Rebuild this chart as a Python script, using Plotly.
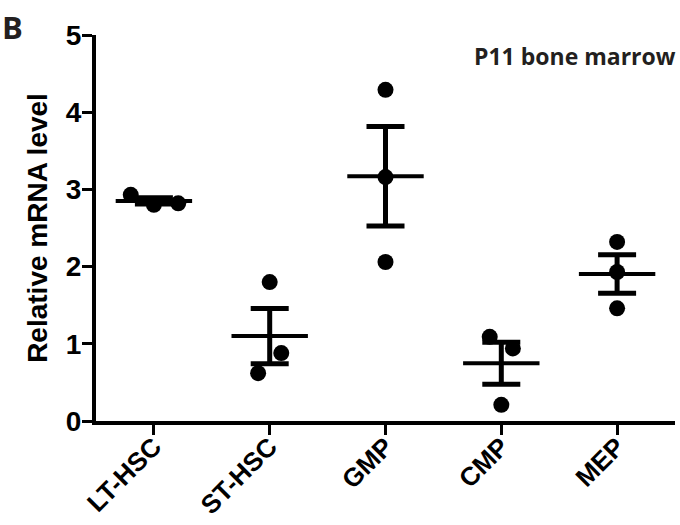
import numpy as np
import plotly.graph_objects as go

# Relative mRNA level per population (three replicates each)
categories = ["LT-HSC", "ST-HSC", "GMP", "CMP", "MEP"]
lt_hsc = [2.93, 2.80, 2.82]
st_hsc = [1.80, 0.88, 0.62]
gmp = [4.29, 3.16, 2.06]
cmp_ = [1.09, 0.94, 0.21]
mep = [2.32, 1.93, 1.46]
y_ticks = [0, 1, 2, 3, 4, 5]

series = [lt_hsc, st_hsc, gmp, cmp_, mep]

# horizontal scatter of replicate dots so overlapping points stay visible
jitter = [
    [-0.20, 0.0, 0.21],
    [0.0, 0.10, -0.10],
    [0.0, 0.0, 0.0],
    [-0.10, 0.10, 0.0],
    [0.0, 0.0, 0.0],
]
MEAN_HALF = 0.33
INK = "black"
AXIS_FONT = "Liberation Sans, Arial, sans-serif"

fig = go.Figure()

for i, vals in enumerate(series):
    arr = np.array(vals)
    mean = arr.mean()
    sem = arr.std(ddof=1) / np.sqrt(len(arr))

    # replicate points
    fig.add_trace(go.Scatter(
        x=[i + j for j in jitter[i]], y=vals, mode="markers",
        marker=dict(size=16, color=INK), showlegend=False, hoverinfo="y",
    ))
    # mean line
    fig.add_trace(go.Scatter(
        x=[i - MEAN_HALF, i + MEAN_HALF], y=[mean, mean], mode="lines",
        line=dict(color=INK, width=4), showlegend=False, hoverinfo="skip",
    ))
    # SEM whiskers
    fig.add_trace(go.Scatter(
        x=[i], y=[mean], mode="markers",
        marker=dict(size=1, color="rgba(0,0,0,0)"),
        error_y=dict(type="data", array=[sem], visible=True,
                     color=INK, thickness=5, width=19),
        showlegend=False, hoverinfo="skip",
    ))

fig.update_layout(
    width=680, height=525,
    margin=dict(l=96, r=5, t=35, b=104),
    paper_bgcolor="white", plot_bgcolor="white",
    font=dict(family=AXIS_FONT, color=INK),
)

fig.update_xaxes(
    range=[-0.5, 4.5], tickmode="array", automargin=False,
    tickvals=list(range(len(categories))), ticktext=categories,
    tickangle=-45, ticks="outside", ticklen=10, tickwidth=3, tickcolor=INK,
    ticklabelstandoff=-14,
    showline=True, linewidth=4, linecolor=INK, showgrid=False, zeroline=False,
    tickfont=dict(family=AXIS_FONT, size=26, weight="bold", color=INK),
)
fig.update_yaxes(
    range=[0, 5], tickmode="array", tickvals=y_ticks, automargin=False,
    ticks="outside", ticklen=10, tickwidth=3, tickcolor=INK,
    ticklabelstandoff=-5,
    showline=True, linewidth=4, linecolor=INK, showgrid=False, zeroline=False,
    tickfont=dict(family=AXIS_FONT, size=28, weight="bold", color=INK),
    title=dict(text="Relative mRNA level", standoff=11,
               font=dict(family=AXIS_FONT, size=28, weight="bold", color=INK)),
)

fig.add_annotation(
    text="P11 bone marrow", xref="paper", yref="paper",
    x=1.0, y=0.9456, xanchor="right", yanchor="middle", xshift=3,
    showarrow=False,
    font=dict(family="Open Sans, sans-serif", size=23, weight="bold", color="#231f20"),
)
fig.add_annotation(
    text="B", xref="paper", yref="paper",
    x=-0.1623, y=1.0207, xanchor="left", yanchor="middle", xshift=-2,
    showarrow=False,
    font=dict(family="Open Sans, sans-serif", size=31, weight="bold", color="#231f20"),
)

fig.write_html("out.html")
